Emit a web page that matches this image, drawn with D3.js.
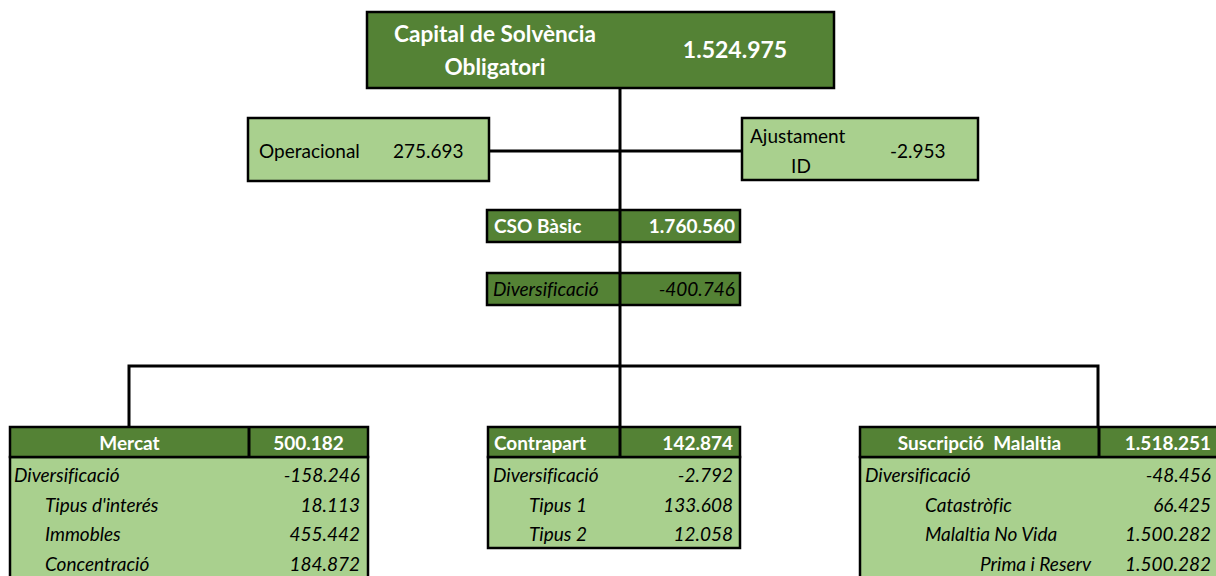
<!DOCTYPE html>
<html><head><meta charset="utf-8">
<script src="https://cdn.jsdelivr.net/npm/d3@7"></script>
<style>
html,body{margin:0;padding:0;background:#fff;}
svg{display:block;font-family:Lato,"Noto Sans",sans-serif;font-variant-ligatures:none;font-feature-settings:"liga" 0,"clig" 0,"dlig" 0;}
text{white-space:pre;}
</style></head>
<body><svg id="c" width="1216" height="576"></svg>
<script>
// ---- data ----
const topLabel = ["Capital de Solvència", "Obligatori"];
const topValue = 1524975;
const sideLabels = ["Operacional", "Ajustament ID"];
const sideValues = [275693, -2953];
const basicLabel = "CSO Bàsic";
const basicValue = 1760560;
const divLabel = "Diversificació";
const divValue = -400746;
const moduleNames = ["Mercat", "Contrapart", "Suscripció  Malaltia"];
const moduleValues = [500182, 142874, 1518251];
const mercatItems = ["Diversificació", "Tipus d'interés", "Immobles", "Concentració"];
const mercatValues = [-158246, 18113, 455442, 184872];
const mercatDepth = [0, 1, 1, 1];
const contraItems = ["Diversificació", "Tipus 1", "Tipus 2"];
const contraValues = [-2792, 133608, 12058];
const contraDepth = [0, 1, 1];
const suscItems = ["Diversificació", "Catastròfic", "Malaltia No Vida", "Prima i Reserv"];
const suscValues = [-48456, 66425, 1500282, 1500282];
const suscDepth = [0, 1, 1, 2];

// ---- style ----
const DARK = "#548235", LIGHT = "#A9D08E", INK = "#000";
const FS = 19;
const loc = d3.formatLocale({decimal: ",", thousands: ".", grouping: [3], currency: ["", ""], minus: "-"});
const fmt = loc.format(",d");

const svg = d3.select("#c");
svg.append("rect").attr("width", 1216).attr("height", 576).attr("fill", "#fff");

// ---- connectors ----
const lines = svg.append("g").attr("stroke", INK).attr("stroke-width", 3).attr("fill", "none");
lines.append("line").attr("x1", 620).attr("x2", 620).attr("y1", 88).attr("y2", 428);
lines.append("line").attr("x1", 489).attr("x2", 742).attr("y1", 151).attr("y2", 151);
lines.append("path").attr("d", "M129,428V366H1098V428");

function box(x, y, w, h, fill, sw) {
  svg.append("rect").attr("x", x).attr("y", y).attr("width", w).attr("height", h)
    .attr("fill", fill).attr("stroke", INK).attr("stroke-width", sw || 2.5);
}
function txt(x, y, s, o) {
  o = o || {};
  return svg.append("text").attr("x", x).attr("y", y).attr("dy", "0.35em")
    .attr("text-anchor", o.anchor || "start")
    .attr("font-size", o.size || FS)
    .attr("font-weight", o.bold ? "bold" : "normal")
    .attr("font-style", o.italic ? "italic" : "normal")
    .attr("fill", o.color || INK).text(s);
}

// ---- top ----
box(367, 12, 467, 76, DARK, 2.5);
txt(495, 34, topLabel[0], {anchor: "middle", bold: true, size: 22.6, color: "#fff"});
txt(495, 67, topLabel[1], {anchor: "middle", bold: true, size: 22.6, color: "#fff"});
txt(735, 50, fmt(topValue), {anchor: "middle", bold: true, size: 23, color: "#fff"});

// ---- side boxes ----
box(248, 118, 241, 63, LIGHT);
txt(259, 151, sideLabels[0]);
txt(393, 151, fmt(sideValues[0]));
box(742, 118, 236, 62, LIGHT);
const adjParts = sideLabels[1].split(" ");
txt(750, 136, adjParts[0]);
txt(801, 166, adjParts[1], {anchor: "middle"});
txt(890, 151, fmt(sideValues[1]));

// ---- basic & diversification ----
box(487, 210, 253, 32, DARK);
svg.append("line").attr("x1", 620).attr("x2", 620).attr("y1", 210).attr("y2", 242).attr("stroke", INK).attr("stroke-width", 3);
txt(494, 226, basicLabel, {bold: true, color: "#fff"});
txt(735, 226, fmt(basicValue), {anchor: "end", bold: true, color: "#fff"});
box(487, 273, 253, 32, DARK);
svg.append("line").attr("x1", 620).attr("x2", 620).attr("y1", 273).attr("y2", 305).attr("stroke", INK).attr("stroke-width", 3);
txt(493, 289, divLabel, {italic: true});
txt(735, 289, fmt(divValue), {anchor: "end", italic: true});

// ---- modules ----
const modules = [
  {x: 10, w: 358, div: 249, bodyH: 130, items: mercatItems, values: mercatValues, depth: mercatDepth,
   headAnchor: "middle", valAnchor: "middle", indent: d => d === 0 ? 4 : 35, valRight: 360},
  {x: 488, w: 252, div: 620, bodyH: 91, items: contraItems, values: contraValues, depth: contraDepth,
   headAnchor: "start", valAnchor: "end", indent: d => d === 0 ? 5 : 41, valRight: 733},
  {x: 860, w: 362, div: 1099, bodyH: 130, items: suscItems, values: suscValues, depth: suscDepth,
   headAnchor: "middle", valAnchor: "end", indent: d => d === 0 ? 5 : d === 1 ? 65 : 120, valRight: 1211}
];
const headY = 427, headH = 30;
modules.forEach((m, i) => {
  box(m.x, headY + headH, m.w, m.bodyH, LIGHT);
  box(m.x, headY, m.w, headH, DARK);
  svg.append("line").attr("x1", m.div).attr("x2", m.div).attr("y1", headY).attr("y2", headY + headH)
    .attr("stroke", INK).attr("stroke-width", 3);
  const hy = headY + headH / 2 + 1;
  if (m.headAnchor === "middle") txt((m.x + m.div) / 2, hy, moduleNames[i], {anchor: "middle", bold: true, color: "#fff"});
  else txt(m.x + 6, hy, moduleNames[i], {bold: true, color: "#fff"});
  if (m.valAnchor === "middle") txt((m.div + m.x + m.w) / 2, hy, fmt(moduleValues[i]), {anchor: "middle", bold: true, color: "#fff"});
  else txt(m.valRight, hy, fmt(moduleValues[i]), {anchor: "end", bold: true, color: "#fff"});
  const y = d3.scaleBand().domain(m.items).range([461, 461 + 29.5 * m.items.length]);
  m.items.forEach((it, j) => {
    const cy = y(it) + y.bandwidth() / 2;
    txt(m.x + m.indent(m.depth[j]), cy, it, {italic: true});
    txt(m.valRight, cy, fmt(m.values[j]), {anchor: "end", italic: true});
  });
});
</script></body></html>
